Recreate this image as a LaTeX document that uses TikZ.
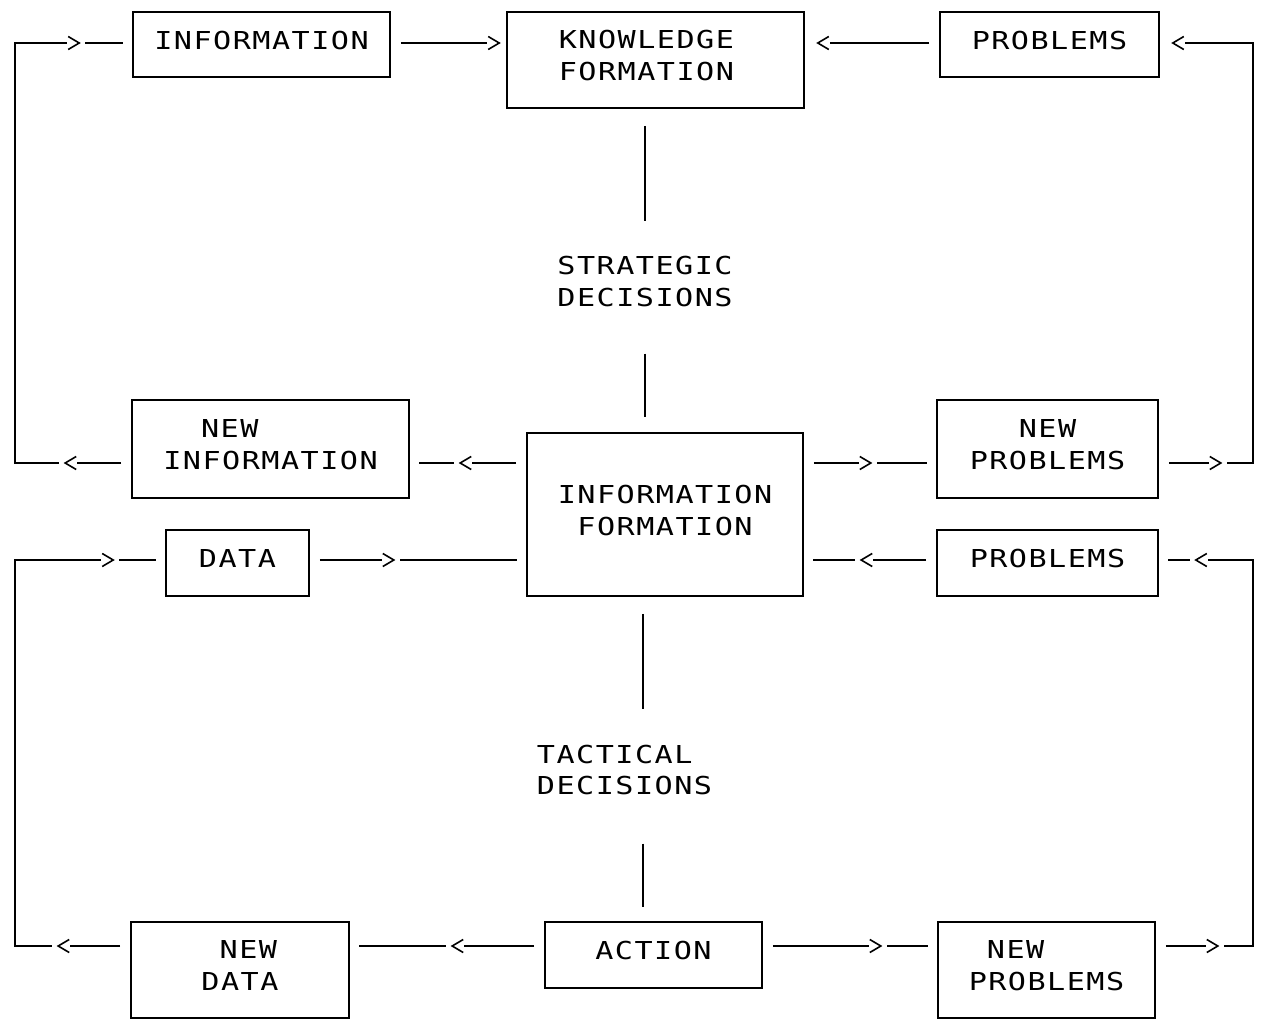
\documentclass[tikz,border=0pt]{standalone}
\usepackage{fontspec}
\usetikzlibrary{decorations.markings}
\newfontfamily\dotfont[FakeStretch=1.22, LetterSpace=6]{DejaVu Sans Mono}
\newcommand\chevron{%
  \path[fill=white, shorten <=0pt, shorten >=0pt] (-12pt,-8pt) rectangle (6pt,8pt);
  \draw[line width=1.6pt, line join=miter, shorten <=0pt, shorten >=0pt] (-11pt,6.5pt) -- (0pt,0pt) -- (-11pt,-6.5pt);%
}

\begin{document}
\begin{tikzpicture}[x=1pt, y=-1pt,
    infobox/.style={draw, line width=1.6pt, inner sep=0pt, align=center,
                    font=\dotfont\fontsize{24.7pt}{32pt}\selectfont,
                    execute at end node={\rule[-9pt]{0pt}{9pt}}},
    decision/.style={inner sep=0pt, align=left, font=\dotfont\fontsize{24.7pt}{32pt}\selectfont},
    link/.style={line width=1.6pt, shorten <=10pt, shorten >=9pt},
    stem/.style={line width=2pt},
    chev/.style={decoration={markings, mark=at position #1 with {\chevron}}, postaction={decorate}},
    chevpair/.style 2 args={decoration={markings, mark=at position #1 with {\chevron},
                    mark=at position #2 with {\chevron}}, postaction={decorate}}
]
\path[use as bounding box, fill=white] (0,0) rectangle (1268,1019);

\node[infobox, minimum width=257pt, minimum height=65pt] (info) at (261.5,44.5) {INFORMATION};
\node[infobox, minimum width=297pt, minimum height=96pt] (know) at (655.5,60) {KNOWLEDGE\phantom{X}\\FORMATION\phantom{X}};
\node[infobox, minimum width=219pt, minimum height=65pt] (probtop) at (1049.5,44.5) {PROBLEMS};
\node[infobox, minimum width=277pt, minimum height=98pt, align=left] (newinfo) at (270.5,449) {\phantom{IN}NEW\\INFORMATION};
\node[infobox, minimum width=276pt, minimum height=163pt] (infofor) at (665,514.5) {INFORMATION\\FORMATION};
\node[infobox, minimum width=221pt, minimum height=98pt] (newprobmid) at (1047.5,449) {NEW\\PROBLEMS};
\node[infobox, minimum width=143pt, minimum height=66pt] (data) at (237.5,563) {DATA};
\node[infobox, minimum width=221pt, minimum height=66pt] (probmid) at (1047.5,563) {PROBLEMS};
\node[infobox, minimum width=218pt, minimum height=96pt, align=left] (newdata) at (240,970) {\phantom{D}NEW\\DATA};
\node[infobox, minimum width=217pt, minimum height=66pt] (action) at (653.5,955) {ACTION};
\node[infobox, minimum width=217pt, minimum height=96pt, align=left] (newprobbot) at (1046.5,970) {\phantom{P}NEW\\PROBLEMS};

\node[decision] (strat) at (645,282) {STRATEGIC\\DECISIONS};
\node[decision] (tact) at (624.5,770) {TACTICAL\\DECISIONS};

\coordinate (r1) at (0,43);
\coordinate (r2) at (0,463);
\coordinate (r3) at (0,560);
\coordinate (r4) at (0,946);
\coordinate (lx) at (15,0);
\coordinate (rx) at (1253,0);
\coordinate (tacx) at (643,0);

\draw[link, chevpair={66pt}{-53pt}] (newinfo.west |- r2) -- (lx |- r2) -- (lx |- r1) -- (info.west |- r1);
\draw[link, chev=-7pt] (info.east |- r1) -- (know.west |- r1);
\draw[link, chev=-13pt] (probtop.west |- r1) -- (know.east |- r1);
\draw[link, chevpair={62pt}{-13pt}] (newprobmid.east |- r2) -- (rx |- r2) -- (rx |- r1) -- (probtop.east |- r1);
\draw[link, chev=66pt] (infofor.west |- r2) -- (newinfo.east |- r2);
\draw[link, chev=67pt] (infofor.east |- r2) -- (newprobmid.west |- r2);
\draw[link, chevpair={72pt}{-52pt}] (newdata.west |- r4) -- (lx |- r4) -- (lx |- r3) -- (data.west |- r3);
\draw[link, chev=84pt] (data.east |- r3) -- (infofor.west |- r3);
\draw[link, chev=75pt] (probmid.west |- r3) -- (infofor.east |- r3);
\draw[link, chevpair={62pt}{-37pt}] (newprobbot.east |- r4) -- (rx |- r4) -- (rx |- r3) -- (probmid.east |- r3);
\draw[link, chev=92pt] (action.west |- r4) -- (newdata.east |- r4);
\draw[link, chev=118pt] (action.east |- r4) -- (newprobbot.west |- r4);

\draw[stem, shorten <=17pt, shorten >=35pt] (know.south -| strat) -- (strat.north);
\draw[stem, shorten <=46pt, shorten >=15pt] (strat.south) -- (infofor.north -| strat);
\draw[stem, shorten <=17pt, shorten >=35pt] (infofor.south -| tacx) -- (tact.north -| tacx);
\draw[stem, shorten <=48pt, shorten >=14pt] (tact.south -| tacx) -- (action.north -| tacx);
\end{tikzpicture}
\end{document}
